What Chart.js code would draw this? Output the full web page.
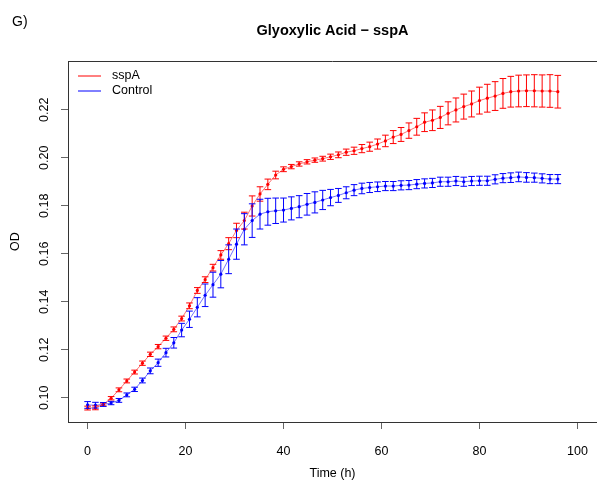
<!DOCTYPE html>
<html>
<head>
<meta charset="utf-8">
<title>Glyoxylic Acid - sspA</title>
<script src="https://cdn.jsdelivr.net/npm/chart.js@4.4.0/dist/chart.umd.min.js"></script>
<style>
    html, body { margin: 0; padding: 0; background: #fff; overflow: hidden; }
    #myChart { display: block; }
</style>
</head>
<body>
<canvas id="myChart" width="597" height="486"></canvas>
<script>
// DADOS
const tempos = [
    0, 1.6, 3.2, 4.8, 6.4, 8, 9.6, 11.2, 12.8, 14.4,
    16, 17.6, 19.2, 20.8, 22.4, 24, 25.6, 27.2, 28.8, 30.4,
    32, 33.6, 35.2, 36.8, 38.4, 40, 41.6, 43.2, 44.8, 46.4,
    48, 49.6, 51.2, 52.8, 54.4, 56, 57.6, 59.2, 60.8, 62.4,
    64, 65.6, 67.2, 68.8, 70.4, 72, 73.6, 75.2, 76.8, 78.4,
    80, 81.6, 83.2, 84.8, 86.4, 88, 89.6, 91.2, 92.8, 94.4,
    96
];

const sspA = [
    0.0957, 0.0958, 0.0972, 0.0998, 0.1033, 0.1070, 0.1107, 0.1144, 0.1181, 0.1213,
    0.1248, 0.1285, 0.1330, 0.1383, 0.1447, 0.1492, 0.1542, 0.1595, 0.1642, 0.1697,
    0.1738, 0.1799, 0.1849, 0.1889, 0.1928, 0.1952, 0.1963, 0.1974, 0.1983, 0.1990,
    0.1996, 0.2004, 0.2012, 0.2023, 0.2029, 0.2038, 0.2046, 0.2057, 0.2070, 0.2086,
    0.2097, 0.2113, 0.2129, 0.2148, 0.2156, 0.2168, 0.2185, 0.2199, 0.2213, 0.2224,
    0.2238, 0.2248, 0.2257, 0.2268, 0.2275, 0.2278, 0.2279, 0.2279, 0.2278, 0.2278,
    0.2275
];

const sspAErro = [
    0.0008, 0.0008, 0.0006, 0.0007, 0.0008, 0.0008, 0.0008, 0.0009, 0.0009, 0.0009,
    0.0009, 0.0010, 0.0010, 0.0012, 0.0012, 0.0012, 0.0014, 0.0018, 0.0025, 0.0030,
    0.0035, 0.0042, 0.0030, 0.0022, 0.0016, 0.0010, 0.0009, 0.0009, 0.0009, 0.0009,
    0.0010, 0.0011, 0.0012, 0.0013, 0.0015, 0.0017, 0.0019, 0.0021, 0.0024, 0.0027,
    0.0029, 0.0032, 0.0035, 0.0039, 0.0043, 0.0046, 0.0048, 0.0050, 0.0052, 0.0054,
    0.0056, 0.0058, 0.0060, 0.0062, 0.0064, 0.0066, 0.0066, 0.0067, 0.0067, 0.0068,
    0.0068
];

const controle = [
    0.0970, 0.0969, 0.0972, 0.0978, 0.0989, 0.1012, 0.1035, 0.1072, 0.1112, 0.1146,
    0.1188, 0.1229, 0.1282, 0.1327, 0.1377, 0.1427, 0.1471, 0.1515, 0.1577, 0.1640,
    0.1702, 0.1738, 0.1765, 0.1775, 0.1779, 0.1782, 0.1789, 0.1796, 0.1806, 0.1814,
    0.1824, 0.1834, 0.1843, 0.1854, 0.1865, 0.1872, 0.1876, 0.1879, 0.1882, 0.1882,
    0.1885, 0.1886, 0.1890, 0.1893, 0.1895, 0.1900, 0.1900, 0.1903, 0.1900, 0.1903,
    0.1904, 0.1904, 0.1910, 0.1915, 0.1917, 0.1920, 0.1918, 0.1917, 0.1914, 0.1911,
    0.1911
];

const controleErro = [
    0.0014, 0.0012, 0.0008, 0.0007, 0.0008, 0.0008, 0.0009, 0.0010, 0.0012, 0.0015,
    0.0018, 0.0022, 0.0028, 0.0034, 0.0040, 0.0047, 0.0052, 0.0057, 0.0060, 0.0063,
    0.0065, 0.0070, 0.0062, 0.0056, 0.0053, 0.0050, 0.0048, 0.0046, 0.0045, 0.0044,
    0.0040, 0.0034, 0.0029, 0.0025, 0.0023, 0.0022, 0.0021, 0.0020, 0.0019, 0.0019,
    0.0019, 0.0019, 0.0019, 0.0019, 0.0019, 0.0019, 0.0019, 0.0019, 0.0019, 0.0019,
    0.0019, 0.0019, 0.0019, 0.0019, 0.0020, 0.0020, 0.0020, 0.0019, 0.0019, 0.0019,
    0.0019
];

const xTicks = [0, 20, 40, 60, 80, 100];
const yTicks = [0.10, 0.12, 0.14, 0.16, 0.18, 0.20, 0.22];

const fonte = '"Liberation Sans", Arial, Helvetica, sans-serif';
Chart.defaults.font.family = fonte;
Chart.defaults.color = '#000';

// BARRAS DE ERRO, TEXTOS E LEGENDA (estilo R)
const estiloR = {
    id: 'estiloR',
    afterDatasetsDraw(chart) {
        const c = chart.ctx;
        const y = chart.scales.y;
        c.save();
        c.lineWidth = 1;
        chart.data.datasets.forEach(function (ds, k) {
            const meta = chart.getDatasetMeta(k);
            c.strokeStyle = ds.corBarra;
            meta.data.forEach(function (pt, j) {
                const v = ds.data[j].y;
                const topo = y.getPixelForValue(v + ds.erro[j]);
                const base = y.getPixelForValue(v - ds.erro[j]);
                c.beginPath();
                c.moveTo(pt.x, topo);
                c.lineTo(pt.x, base);
                c.moveTo(pt.x - 3.3, topo);
                c.lineTo(pt.x + 3.3, topo);
                c.moveTo(pt.x - 3.3, base);
                c.lineTo(pt.x + 3.3, base);
                c.stroke();
            });
        });
        c.restore();
    },
    afterDraw(chart) {
        const c = chart.ctx;
        const area = chart.chartArea;
        const y = chart.scales.y;
        c.save();

        // linha de cima da caixa
        c.strokeStyle = '#333';
        c.lineWidth = 1;
        c.beginPath();
        c.moveTo(area.left, area.top + 0.5);
        c.lineTo(area.right, area.top + 0.5);
        c.stroke();

        // rotulos do eixo y, girados
        c.fillStyle = '#000';
        c.font = '12.5px ' + fonte;
        c.textAlign = 'center';
        c.textBaseline = 'middle';
        yTicks.forEach(function (v) {
            c.save();
            c.translate(45, y.getPixelForValue(v));
            c.rotate(-Math.PI / 2);
            c.fillText(v.toFixed(2), 0, 0);
            c.restore();
        });

        // titulo
        c.font = 'bold 14.5px ' + fonte;
        c.fillText('Glyoxylic Acid \u2212 sspA', (area.left + area.right) / 2, 31);

        // letra do painel
        c.font = '14px ' + fonte;
        c.textAlign = 'left';
        c.fillText('G)', 12, 22);

        // legenda
        c.font = '12.5px ' + fonte;
        chart.data.datasets.forEach(function (ds, k) {
            const ly = 76 + k * 15;
            c.strokeStyle = ds.corBarra;
            c.beginPath();
            c.moveTo(78, ly);
            c.lineTo(101, ly);
            c.stroke();
            c.fillStyle = '#000';
            c.fillText(ds.label, 112, ly);
        });

        c.restore();
    }
};

const ctx = document.getElementById('myChart').getContext('2d');
const myChart = new Chart(ctx, {
    type: 'line',
    data: {
        datasets: [
            {
                label: 'sspA',
                data: tempos.map((t, i) => ({ x: t, y: sspA[i] })),
                erro: sspAErro,
                corBarra: '#ff0000',
                borderColor: 'rgba(255, 0, 0, 0.55)',
                backgroundColor: '#ff0000',
                borderWidth: 1,
                pointRadius: 1.6,
                pointBorderWidth: 0,
                tension: 0
            },
            {
                label: 'Control',
                data: tempos.map((t, i) => ({ x: t, y: controle[i] })),
                erro: controleErro,
                corBarra: '#0000ff',
                borderColor: 'rgba(0, 0, 255, 0.55)',
                backgroundColor: '#0000ff',
                borderWidth: 1,
                pointRadius: 1.6,
                pointBorderWidth: 0,
                tension: 0
            }
        ]
    },
    options: {
        responsive: false,
        animation: false,
        devicePixelRatio: 1,
        layout: { autoPadding: false, padding: { top: 61, right: 0, bottom: 0, left: 0 } },
        plugins: {
            legend: { display: false },
            title: { display: false },
            tooltip: { enabled: false }
        },
        scales: {
            x: {
                type: 'linear',
                min: -4,
                max: 104,
                afterBuildTicks: (axis) => { axis.ticks = xTicks.map(v => ({ value: v })); },
                afterFit: (axis) => { axis.height = 64; axis.paddingRight = 0; },
                grid: { display: true, drawOnChartArea: false, drawTicks: true, tickLength: 7, color: '#666' },
                border: { display: true, color: '#333', width: 1 },
                ticks: { font: { size: 12.5 }, padding: 15, maxRotation: 0, autoSkip: false },
                title: { display: true, text: 'Time (h)', font: { size: 12.5 }, padding: { top: 0, bottom: 5 } }
            },
            y: {
                type: 'linear',
                min: 0.0899,
                max: 0.2403,
                afterBuildTicks: (axis) => { axis.ticks = yTicks.map(v => ({ value: v })); },
                afterFit: (axis) => { axis.width = 68; },
                grid: { display: true, drawOnChartArea: false, drawTicks: true, tickLength: 7, color: '#666' },
                border: { display: true, color: '#333', width: 1 },
                ticks: { display: false },
                title: { display: true, text: 'OD', font: { size: 12.5 }, padding: { top: 8, bottom: 0 } }
            }
        }
    },
    plugins: [estiloR]
});
</script>
</body>
</html>
